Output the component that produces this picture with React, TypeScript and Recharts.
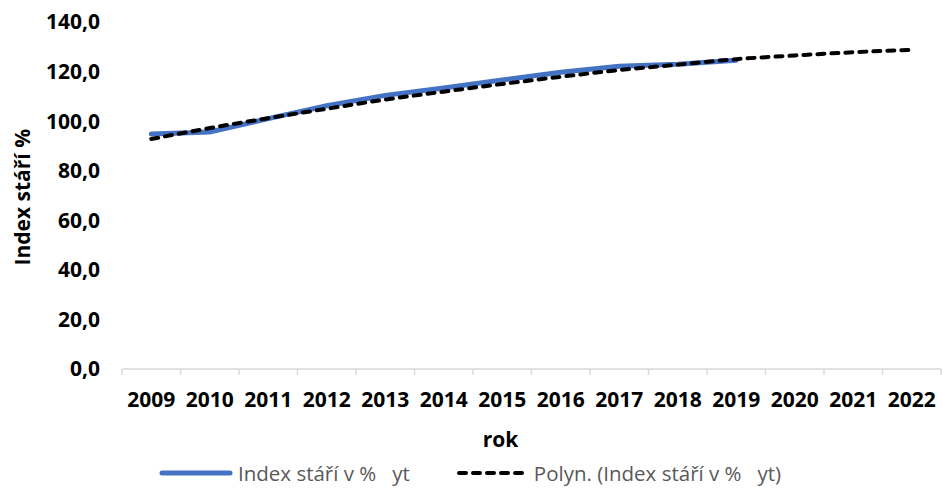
import React from 'react';
import { LineChart, Line, XAxis, YAxis, Legend, ReferenceLine } from 'recharts';

const years = [2009, 2010, 2011, 2012, 2013, 2014, 2015, 2016, 2017, 2018, 2019, 2020, 2021, 2022];
const indexValues: (number | null)[] = [94.8, 95.6, 101.0, 106.2, 110.4, 113.4, 116.6, 119.7, 122.1, 123.0, 124.6, null, null, null];
const trendValues = [92.8, 97.2, 101.2, 105.0, 108.7, 111.9, 115.0, 117.9, 120.6, 122.8, 125.0, 126.5, 127.8, 128.8];
const yTicks = [0, 20, 40, 60, 80, 100, 120, 140];

const seriesName = 'Index stáří v %   yt';
const trendName = 'Polyn. (Index stáří v %   yt)';

const data = years.map((y, i) => ({ year: y, index: indexValues[i], trend: trendValues[i] }));
const boundaries = [...years.map((y) => y - 0.5), years[years.length - 1] + 0.5];

const FONT = '"Open Sans", sans-serif';

const LegendContent = () => (
  <div style={{ display: 'flex', alignItems: 'center', paddingLeft: 159, fontFamily: FONT, fontSize: 20.5, color: '#595959', lineHeight: '22px', whiteSpace: 'pre' }}>
    <svg width={74} height={10} style={{ marginRight: 5 }}>
      <line x1={3} y1={5} x2={71} y2={5} stroke="#4472C4" strokeWidth={5} strokeLinecap="round" />
    </svg>
    <span>{seriesName}</span>
    <svg width={72} height={10} style={{ marginLeft: 47, marginRight: 5 }}>
      <line x1={2} y1={5} x2={70} y2={5} stroke="#000" strokeWidth={4} strokeLinecap="round" strokeDasharray="7 7" />
    </svg>
    <span>{trendName}</span>
  </div>
);

export default function App() {
  return (
    <div style={{ position: 'absolute', left: 0, top: 0, width: 942, height: 489, background: '#fff', overflow: 'hidden' }}>
      <LineChart width={942} height={489} data={data} margin={{ top: 22, right: 1, left: 0, bottom: 40 }}>
        <XAxis
          dataKey="year"
          type="number"
          domain={[2008.5, 2022.5]}
          ticks={years}
          interval={0}
          height={80}
          tickLine={false}
          tickSize={0}
          tickMargin={23}
          axisLine={{ stroke: '#D9D9D9', strokeWidth: 1.5 }}
          tick={{ fill: '#000', fontFamily: FONT, fontSize: 21, fontWeight: 700 }}
          tickFormatter={(v) => String(v)}
          label={{ value: 'rok', position: 'insideBottom', offset: 2, dx: -31, style: { fill: '#000', fontFamily: FONT, fontSize: 21, fontWeight: 700 } }}
        />
        <YAxis
          type="number"
          domain={[0, 140]}
          ticks={yTicks}
          width={122}
          axisLine={false}
          tickLine={false}
          tickSize={0}
          tickMargin={22}
          tick={{ fill: '#000', fontFamily: FONT, fontSize: 21, fontWeight: 700 }}
          tickFormatter={(v) => Number(v).toFixed(1).replace('.', ',')}
          label={{ value: 'Index stáří %', angle: -90, position: 'insideLeft', offset: 23, dy: 70, style: { fill: '#000', fontFamily: FONT, fontSize: 21, fontWeight: 700 } }}
        />
        {boundaries.map((b) => (
          <ReferenceLine
            key={b}
            ifOverflow="visible"
            segment={[{ x: b, y: 0 }, { x: b, y: -2.4 }]}
            stroke="#D9D9D9"
            strokeWidth={1.5}
          />
        ))}
        <Line
          type="linear"
          dataKey="index"
          name={seriesName}
          stroke="#4472C4"
          strokeWidth={5}
          strokeLinecap="round"
          dot={false}
          activeDot={false}
          connectNulls={false}
          isAnimationActive={false}
        />
        <Line
          type="monotone"
          dataKey="trend"
          name={trendName}
          stroke="#000"
          strokeWidth={4}
          strokeLinecap="round"
          strokeDasharray="7 7"
          dot={false}
          activeDot={false}
          isAnimationActive={false}
        />
        <Legend
          verticalAlign="middle"
          align="center"
          layout="horizontal"
          wrapperStyle={{ top: 462, left: 0, width: 942 }}
          content={<LegendContent />}
        />
      </LineChart>
    </div>
  );
}
